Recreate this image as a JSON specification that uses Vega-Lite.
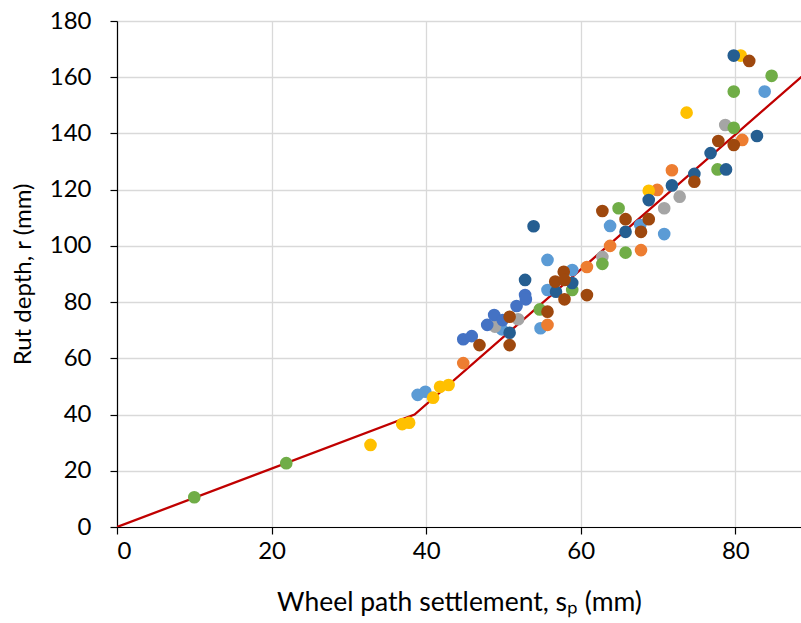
{
  "$schema": "https://vega.github.io/schema/vega-lite/v6.json",
  "width": 684,
  "height": 506,
  "autosize": {"type": "none"},
  "padding": {"left": 117, "top": 21, "right": 0, "bottom": 96},
  "background": "white",
  "config": {
    "view": {"stroke": null},
    "font": "Lato",
    "axis": {
      "domainColor": "#000000",
      "domainWidth": 1.2,
      "tickColor": "#000000",
      "tickWidth": 1.2,
      "tickSize": 7,
      "gridColor": "#D9D9D9",
      "gridWidth": 1.3,
      "labelFont": "Lato",
      "labelFontSize": 24,
      "labelColor": "#000000",
      "titleFont": "Lato",
      "titleFontSize": 25,
      "titleFontWeight": "normal",
      "titleColor": "#000000"
    }
  },
  "datasets": {
    "pts": [
      {"s": 38.9, "r": 47.0, "series": "S1"},
      {"s": 39.9, "r": 48.1, "series": "S1"},
      {"s": 49.8, "r": 70.3, "series": "S1"},
      {"s": 54.8, "r": 70.7, "series": "S1"},
      {"s": 55.7, "r": 84.3, "series": "S1"},
      {"s": 55.7, "r": 95.0, "series": "S1"},
      {"s": 58.9, "r": 91.4, "series": "S1"},
      {"s": 63.8, "r": 107.1, "series": "S1"},
      {"s": 67.7, "r": 107.4, "series": "S1"},
      {"s": 70.8, "r": 104.2, "series": "S1"},
      {"s": 83.8, "r": 154.9, "series": "S1"},
      {"s": 44.8, "r": 58.3, "series": "S2"},
      {"s": 55.7, "r": 71.9, "series": "S2"},
      {"s": 60.8, "r": 92.5, "series": "S2"},
      {"s": 63.8, "r": 100.0, "series": "S2"},
      {"s": 67.8, "r": 98.5, "series": "S2"},
      {"s": 69.9, "r": 119.9, "series": "S2"},
      {"s": 71.8, "r": 126.9, "series": "S2"},
      {"s": 80.9, "r": 137.7, "series": "S2"},
      {"s": 48.9, "r": 71.3, "series": "S3"},
      {"s": 51.9, "r": 73.9, "series": "S3"},
      {"s": 62.8, "r": 96.1, "series": "S3"},
      {"s": 70.8, "r": 113.4, "series": "S3"},
      {"s": 72.8, "r": 117.5, "series": "S3"},
      {"s": 78.7, "r": 143.0, "series": "S3"},
      {"s": 32.8, "r": 29.2, "series": "S4"},
      {"s": 36.9, "r": 36.6, "series": "S4"},
      {"s": 37.8, "r": 37.1, "series": "S4"},
      {"s": 40.9, "r": 46.0, "series": "S4"},
      {"s": 41.8, "r": 49.9, "series": "S4"},
      {"s": 42.9, "r": 50.5, "series": "S4"},
      {"s": 68.8, "r": 119.6, "series": "S4"},
      {"s": 73.7, "r": 147.4, "series": "S4"},
      {"s": 80.7, "r": 167.7, "series": "S4"},
      {"s": 44.8, "r": 66.8, "series": "S5"},
      {"s": 45.9, "r": 67.9, "series": "S5"},
      {"s": 47.9, "r": 71.9, "series": "S5"},
      {"s": 48.8, "r": 75.4, "series": "S5"},
      {"s": 49.9, "r": 73.6, "series": "S5"},
      {"s": 51.7, "r": 78.6, "series": "S5"},
      {"s": 52.8, "r": 82.5, "series": "S5"},
      {"s": 52.9, "r": 81.0, "series": "S5"},
      {"s": 10.0, "r": 10.6, "series": "S6"},
      {"s": 21.9, "r": 22.7, "series": "S6"},
      {"s": 54.7, "r": 77.4, "series": "S6"},
      {"s": 58.9, "r": 84.3, "series": "S6"},
      {"s": 62.8, "r": 93.6, "series": "S6"},
      {"s": 64.9, "r": 113.4, "series": "S6"},
      {"s": 65.8, "r": 97.6, "series": "S6"},
      {"s": 77.7, "r": 127.2, "series": "S6"},
      {"s": 79.8, "r": 154.9, "series": "S6"},
      {"s": 79.8, "r": 142.0, "series": "S6"},
      {"s": 84.7, "r": 160.5, "series": "S6"},
      {"s": 50.8, "r": 69.1, "series": "S7"},
      {"s": 52.8, "r": 87.9, "series": "S7"},
      {"s": 53.9, "r": 107.0, "series": "S7"},
      {"s": 56.8, "r": 83.7, "series": "S7"},
      {"s": 58.9, "r": 86.8, "series": "S7"},
      {"s": 65.8, "r": 105.0, "series": "S7"},
      {"s": 68.8, "r": 116.3, "series": "S7"},
      {"s": 71.8, "r": 121.5, "series": "S7"},
      {"s": 74.7, "r": 125.6, "series": "S7"},
      {"s": 76.8, "r": 133.0, "series": "S7"},
      {"s": 78.8, "r": 127.2, "series": "S7"},
      {"s": 79.8, "r": 167.7, "series": "S7"},
      {"s": 82.8, "r": 139.1, "series": "S7"},
      {"s": 46.9, "r": 64.7, "series": "S8"},
      {"s": 50.8, "r": 64.7, "series": "S8"},
      {"s": 50.8, "r": 74.8, "series": "S8"},
      {"s": 55.7, "r": 76.6, "series": "S8"},
      {"s": 56.7, "r": 87.3, "series": "S8"},
      {"s": 57.8, "r": 90.8, "series": "S8"},
      {"s": 57.9, "r": 87.9, "series": "S8"},
      {"s": 57.9, "r": 81.0, "series": "S8"},
      {"s": 60.8, "r": 82.5, "series": "S8"},
      {"s": 62.8, "r": 112.4, "series": "S8"},
      {"s": 65.8, "r": 109.5, "series": "S8"},
      {"s": 67.8, "r": 105.0, "series": "S8"},
      {"s": 68.8, "r": 109.5, "series": "S8"},
      {"s": 74.7, "r": 122.8, "series": "S8"},
      {"s": 77.8, "r": 137.3, "series": "S8"},
      {"s": 79.8, "r": 135.9, "series": "S8"},
      {"s": 81.8, "r": 165.8, "series": "S8"}
    ],
    "fit": [
      {"s": 0, "r": 0},
      {"s": 38.5, "r": 40},
      {"s": 90, "r": 163.6}
    ]
  },
  "layer": [
    {
      "data": {"name": "fit"},
      "mark": {"type": "line", "color": "#C00000", "strokeWidth": 2.3, "clip": true},
      "encoding": {
        "x": {"field": "s", "type": "quantitative", "scale": {"domain": [0, 88.5], "nice": false, "zero": true},
          "axis": {"values": [0, 20, 40, 60, 80], "title": "Wheel path settlement, sₚ (mm)", "titleFontSize": 26.5, "labelPadding": 5, "titlePadding": 26, "grid": true}},
        "y": {"field": "r", "type": "quantitative", "scale": {"domain": [0, 180], "nice": false},
          "axis": {"values": [0, 20, 40, 60, 80, 100, 120, 140, 160, 180], "title": "Rut depth, r (mm)", "titleFontSize": 24, "labelPadding": 19, "titlePadding": 14, "grid": true}},
        "order": {"field": "s", "type": "quantitative"}
      }
    },
    {
      "data": {"name": "pts"},
      "mark": {"type": "circle", "size": 160, "opacity": 1, "clip": true},
      "encoding": {
        "x": {"field": "s", "type": "quantitative"},
        "y": {"field": "r", "type": "quantitative"},
        "color": {"field": "series", "type": "nominal", "legend": null,
          "scale": {"domain": ["S1", "S2", "S3", "S4", "S5", "S6", "S7", "S8"],
            "range": ["#5B9BD5", "#ED7D31", "#A5A5A5", "#FFC000", "#4472C4", "#70AD47", "#255E91", "#9E480E"]}}
      }
    }
  ]
}
